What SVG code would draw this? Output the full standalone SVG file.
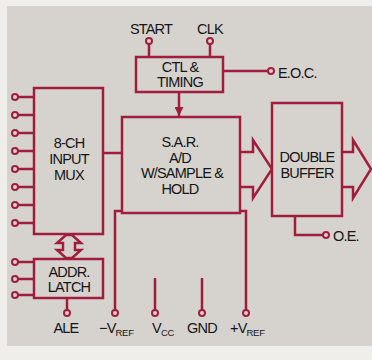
<svg xmlns="http://www.w3.org/2000/svg" width="372" height="360" viewBox="0 0 372 360">
<style>
.ln{fill:none;stroke:#a01e3c;stroke-width:2.5;stroke-linejoin:miter}
.box{fill:#d6d3cf;stroke:#a01e3c;stroke-width:2.5}
.pin{fill:#d6d3cf;stroke:#a01e3c;stroke-width:2}
.t{font-family:"Liberation Sans",Arial,Helvetica,sans-serif;font-size:14.5px;fill:#151515;letter-spacing:-0.8px}
.c{text-anchor:middle}
.sub{font-size:9.5px;letter-spacing:-0.3px}
</style>
<defs>
<marker id="ah" viewBox="0 0 10 10" refX="10" refY="5" markerWidth="3.6" markerHeight="3.6" orient="auto" markerUnits="strokeWidth">
<path d="M0,0 L10,5 L0,10 Z" fill="#a01e3c"/>
</marker>
</defs>
<rect x="0" y="0" width="372" height="360" fill="#efeeeb"/>
<rect x="7" y="6" width="365" height="340" fill="#d6d3cf"/>

<g id="connectors">
<path class="ln" d="M18,97H34M18,115H34M18,133H34M18,151H34M18,169H34M18,187H34M18,205H34M18,223H34"/>
<path class="ln" d="M18,262H34M18,279H34M18,295H34"/>
<path class="ln" d="M103,153H122"/>
<path class="ln" d="M149,44V57M210,44V57"/>
<path class="ln" d="M223,71H268"/>
<path class="ln" d="M179,92V116" marker-end="url(#ah)"/>
<path class="ln" d="M67,298V310"/>
<path class="ln" d="M122,211H115V310"/>
<path class="ln" d="M240,211H246V310"/>
<path class="ln" d="M155,278V310M202,278V310"/>
<path class="ln" d="M295,216V235H323"/>
<path class="ln" stroke-width="2.2" d="M66,235H72L81,243H75V250H81L72,258H66L57,250H63V243H57Z"/>
<path class="ln" d="M240,152H253V140L272,169L253,198V187H240"/>
<path class="ln" d="M342,152H353V140L371,169L353,198V187H342"/>
<g>
<circle class="pin" cx="15" cy="97" r="3"/><circle class="pin" cx="15" cy="115" r="3"/>
<circle class="pin" cx="15" cy="133" r="3"/><circle class="pin" cx="15" cy="151" r="3"/>
<circle class="pin" cx="15" cy="169" r="3"/><circle class="pin" cx="15" cy="187" r="3"/>
<circle class="pin" cx="15" cy="205" r="3"/><circle class="pin" cx="15" cy="223" r="3"/>
<circle class="pin" cx="15" cy="262" r="3"/><circle class="pin" cx="15" cy="279" r="3"/>
<circle class="pin" cx="15" cy="295" r="3"/>
<circle class="pin" cx="149" cy="41" r="3"/><circle class="pin" cx="210" cy="41" r="3"/>
<circle class="pin" cx="271" cy="71" r="3"/>
<circle class="pin" cx="67" cy="313" r="3"/>
<circle class="pin" cx="115" cy="313" r="3"/><circle class="pin" cx="155" cy="313" r="3"/>
<circle class="pin" cx="202" cy="313" r="3"/><circle class="pin" cx="246" cy="313" r="3"/>
<circle class="pin" cx="326" cy="235" r="3"/>
</g>
</g>

<g id="mux">
<rect class="box" x="34" y="88" width="69" height="146"/>
<text class="t c" x="69" y="148">8-CH</text>
<text class="t c" x="69" y="164">INPUT</text>
<text class="t c" x="69" y="180">MUX</text>
</g>
<g id="latch">
<rect class="box" x="34" y="259" width="69" height="39"/>
<text class="t c" x="69" y="277">ADDR.</text>
<text class="t c" x="69" y="292">LATCH</text>
</g>
<g id="ctl">
<rect class="box" x="136" y="57" width="87" height="35"/>
<text class="t c" x="180" y="72">CTL &amp;</text>
<text class="t c" x="180" y="87">TIMING</text>
</g>
<g id="sar">
<rect class="box" x="122" y="117" width="118" height="96"/>
<text class="t c" x="180" y="147">S.A.R.</text>
<text class="t c" x="180" y="163">A/D</text>
<text class="t c" x="182" y="178">W/SAMPLE &amp;</text>
<text class="t c" x="180" y="194">HOLD</text>
</g>
<g id="buffer">
<rect class="box" x="272" y="103" width="70" height="113"/>
<text class="t c" x="307" y="162">DOUBLE</text>
<text class="t c" x="307" y="178">BUFFER</text>
</g>

<g id="labels">
<text class="t c" x="151" y="34">START</text>
<text class="t c" x="210" y="34">CLK</text>
<text class="t" x="278" y="78">E.O.C.</text>
<text class="t" x="333" y="241">O.E.</text>
<text class="t c" x="66" y="333">ALE</text>
<text class="t" x="99" y="333">−V<tspan class="sub" dy="3">REF</tspan></text>
<text class="t" x="152" y="333">V<tspan class="sub" dy="3">CC</tspan></text>
<text class="t c" x="202" y="333">GND</text>
<text class="t" x="230" y="333">+V<tspan class="sub" dy="3">REF</tspan></text>
</g>
</svg>
